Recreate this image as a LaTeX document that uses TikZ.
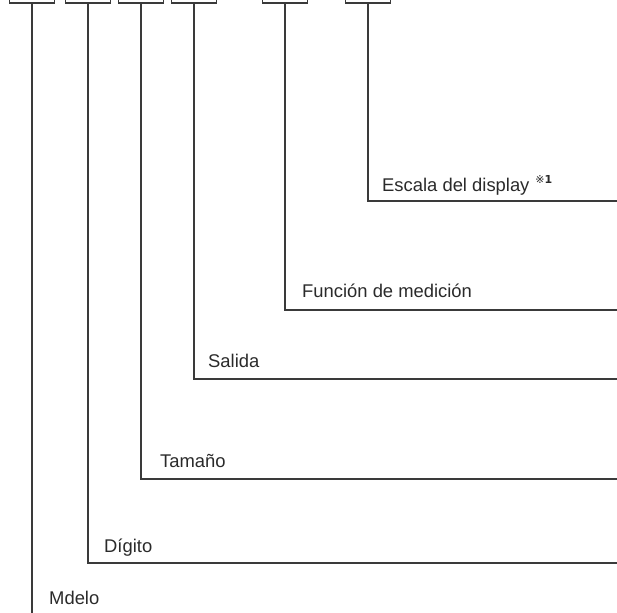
\documentclass[tikz,border=0pt]{standalone}
\usepackage{fontspec}
\setmainfont{Liberation Sans}
\newfontfamily\symfont{DejaVu Sans}
\definecolor{linegray}{HTML}{3A3A3A}
\definecolor{textgray}{HTML}{2A2A2A}
\begin{document}
\begin{tikzpicture}[x=1pt,y=-1pt,
    codebox/.style={draw=linegray,line width=1.3pt,minimum width=45pt,minimum height=26pt,inner sep=0pt},
    wire/.style={draw=linegray,line width=1.3pt},
    lbl/.style={anchor=base west,inner sep=0pt,text=textgray,font=\fontsize{18.4}{22}\selectfont}]
    \useasboundingbox (0,0) rectangle (617,612);
    \clip (0,0) rectangle (617,612);
    % code boxes (cut at the top)
    \node[codebox] (b1) at (32,-10) {};
    \node[codebox] (b2) at (88,-10) {};
    \node[codebox] (b3) at (141,-10) {};
    \node[codebox] (b4) at (194,-10) {};
    \node[codebox] (b5) at (285,-10) {};
    \node[codebox] (b6) at (368,-10) {};
    % free ends at the right edge
    \coordinate (e2) at (620,563);
    \coordinate (e3) at (620,479);
    \coordinate (e4) at (620,379);
    \coordinate (e5) at (620,310);
    \coordinate (e6) at (620,201);
    \coordinate (e1) at (b1.south |- 0,620);
    \draw[wire] (b1.south) -- (e1);
    \draw[wire] (b2.south) |- (e2);
    \draw[wire] (b3.south) |- (e3);
    \draw[wire] (b4.south) |- (e4);
    \draw[wire] (b5.south) |- (e5);
    \draw[wire] (b6.south) |- (e6);
    % labels
    \node[lbl] (t6) at (382,191) {Escala del display\hspace{6pt}\raisebox{7pt}{\fontsize{11}{12}\selectfont\symfont ※\textbf{1}}};
    \node[lbl] (t5) at (302,297) {Función de medición};
    \node[lbl] (t4) at (208,367) {Salida};
    \node[lbl] (t3) at (160,467) {Tamaño};
    \node[lbl] (t2) at (104,552) {Dígito};
    \node[lbl] (t1) at (49,604) {Mdelo};
\end{tikzpicture}
\end{document}
